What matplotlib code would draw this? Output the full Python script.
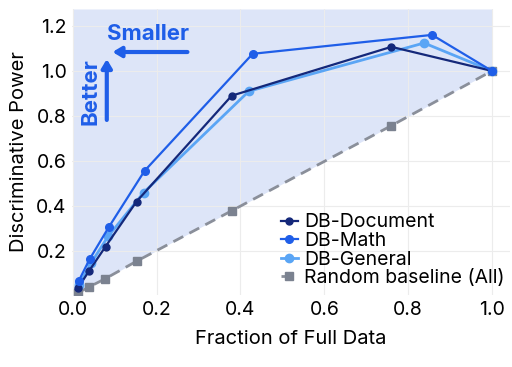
import numpy as np
import matplotlib.pyplot as plt

plt.rcParams['font.family'] = ['Inter', 'DejaVu Sans']

doc_x = [0.012, 0.038, 0.078, 0.152, 0.379, 0.76, 1.0]
doc_y = [0.035, 0.11, 0.22, 0.42, 0.89, 1.107, 1.0]
math_x = [0.014, 0.04, 0.086, 0.171, 0.429, 0.857, 1.0]
math_y = [0.067, 0.164, 0.307, 0.556, 1.076, 1.16, 1.0]
gen_x = [0.015, 0.043, 0.084, 0.169, 0.42, 0.838, 1.0]
gen_y = [0.05, 0.145, 0.265, 0.46, 0.91, 1.124, 1.0]
rand_x = [0.012, 0.038, 0.076, 0.152, 0.38, 0.76, 1.0]
rand_y = [0.015, 0.04, 0.076, 0.155, 0.38, 0.757, 1.0]

xticks = [0.0, 0.2, 0.4, 0.6, 0.8, 1.0]
yticks = [0.2, 0.4, 0.6, 0.8, 1.0, 1.2]

accent = '#1f5ee8'

fig = plt.figure(figsize=(5.12, 3.67), dpi=100)
ax = fig.add_axes([72/512, 1 - 295/367, (510-72)/512, (295-9)/367])

ymax = 1.275
ax.fill_between([0.0] + rand_x, [0.0] + rand_y, ymax, color='#dde5f8', lw=0, zorder=0)

ax.plot(rand_x, rand_y, ls=(0, (4, 2.5)), color='#8a8f9a', lw=2,
        marker='s', ms=5.5, mfc='#7b8290', mec='#7b8290', label='Random baseline (All)', zorder=2)
ax.plot(gen_x, gen_y, color='#5aa5f5', lw=2, marker='o', ms=6, label='DB-General', zorder=3)
ax.plot(doc_x, doc_y, color='#14287a', lw=1.6, marker='o', ms=5, label='DB-Document', zorder=4)
ax.plot(math_x, math_y, color=accent, lw=1.6, marker='o', ms=5.5, label='DB-Math', zorder=5)

ax.set_xlim(-0.002, 1.043)
ax.set_ylim(0.005, ymax)
ax.set_xticks(xticks)
ax.set_yticks(yticks)
ax.set_xticklabels([f'{t:.1f}' for t in xticks])
ax.set_yticklabels([f'{t:.1f}' for t in yticks])
ax.tick_params(length=0, labelsize=14, pad=4)
ax.grid(color='#ececec', lw=0.8)
ax.set_axisbelow(True)
for s in ax.spines.values():
    s.set_visible(False)

ax.set_xlabel('Fraction of Full Data', fontsize=14.5, labelpad=8)
ax.set_ylabel('Discriminative Power', fontsize=14.5, labelpad=6)

# "smaller / better" hint
ax.annotate('', xy=(0.088, 1.084), xytext=(0.28, 1.084),
            arrowprops=dict(arrowstyle='-|>,head_width=0.3,head_length=0.5', color=accent, lw=3))
ax.annotate('', xy=(0.081, 1.065), xytext=(0.081, 0.77),
            arrowprops=dict(arrowstyle='-|>,head_width=0.3,head_length=0.5', color=accent, lw=3))
ax.text(0.18, 1.165, 'Smaller', color=accent, fontsize=16, fontweight='bold', ha='center', va='center')
ax.text(0.043, 0.907, 'Better', color=accent, fontsize=16, fontweight='bold', rotation=90,
        ha='center', va='center')

h, l = ax.get_legend_handles_labels()
order = [2, 3, 1, 0]
ax.legend([h[i] for i in order], [l[i] for i in order], loc='lower right',
          bbox_to_anchor=(1.005, 0.0), frameon=False, fontsize=14, handlelength=0.9,
          handletextpad=0.3, labelspacing=0.03, borderaxespad=0)

fig.savefig('out.png', dpi=100)
